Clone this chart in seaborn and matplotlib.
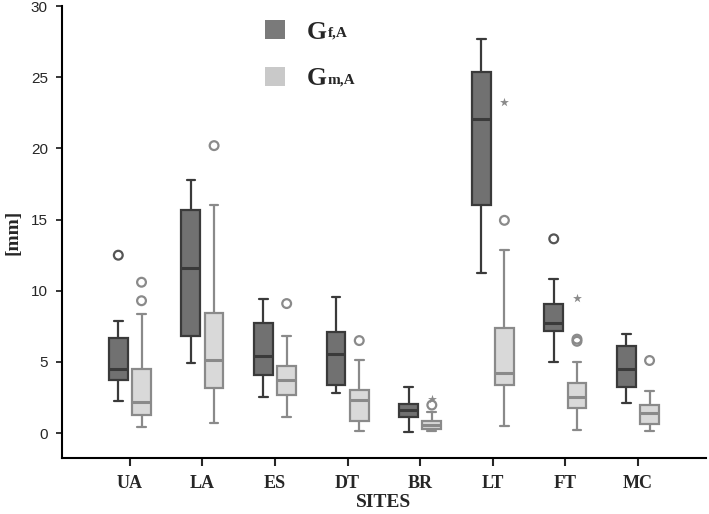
import pandas as pd
import matplotlib
matplotlib.use('Agg')
from matplotlib import pyplot as plt
from matplotlib.patches import Patch
import seaborn as sns

sites = ['UA', 'LA', 'ES', 'DT', 'BR', 'LT', 'FT', 'MC']

# five-number summaries: whisker low, Q1, median, Q3, whisker high
gf_low = [2.25, 4.9, 2.55, 2.8, 0.07, 11.25, 5.0, 2.1]
gf_q1 = [3.75, 6.8, 4.05, 3.4, 1.1, 16.05, 7.15, 3.25]
gf_med = [4.5, 11.6, 5.45, 5.55, 1.6, 22.05, 7.75, 4.5]
gf_q3 = [6.65, 15.7, 7.7, 7.1, 2.05, 25.35, 9.1, 6.1]
gf_high = [7.85, 17.8, 9.45, 9.55, 3.25, 27.7, 10.8, 6.95]

gm_low = [0.4, 0.7, 1.15, 0.15, 0.12, 0.5, 0.22, 0.12]
gm_q1 = [1.3, 3.15, 2.65, 0.85, 0.3, 3.35, 1.75, 0.62]
gm_med = [2.15, 5.1, 3.7, 2.3, 0.55, 4.25, 2.55, 1.4]
gm_q3 = [4.5, 8.45, 4.7, 3.05, 0.82, 7.4, 3.5, 1.95]
gm_high = [8.4, 16.0, 6.85, 5.1, 1.48, 12.85, 5.0, 2.95]

# outliers: site, group, value
out_circle_site = ['UA', 'FT', 'UA', 'UA', 'LA', 'ES', 'DT', 'BR', 'LT', 'FT', 'FT', 'MC']
out_circle_group = ['Gf', 'Gf', 'Gm', 'Gm', 'Gm', 'Gm', 'Gm', 'Gm', 'Gm', 'Gm', 'Gm', 'Gm']
out_circle_value = [12.5, 13.65, 10.6, 9.3, 20.2, 9.1, 6.5, 1.97, 14.95, 6.45, 6.6, 5.1]
out_star_site = ['BR', 'LT', 'FT']
out_star_group = ['Gm', 'Gm', 'Gm']
out_star_value = [2.4, 23.3, 9.5]

groups = ['Gf', 'Gm']
fill = {'Gf': '#717171', 'Gm': '#d9d9d9'}
edge = {'Gf': '#3a3a3a', 'Gm': '#8a8a8a'}
legend_fill = {'Gf': '#7a7a7a', 'Gm': '#c9c9c9'}
subscripts = {'Gf': 'f,A', 'Gm': 'm,A'}

rows = []
summ = {'Gf': [gf_low, gf_q1, gf_med, gf_q3, gf_high],
        'Gm': [gm_low, gm_q1, gm_med, gm_q3, gm_high]}
for g in groups:
    for i, s in enumerate(sites):
        for stat in summ[g]:
            rows.append({'site': s, 'group': g, 'value': stat[i]})
df = pd.DataFrame(rows)

sns.set_style('ticks')
plt.rcParams['font.family'] = ['Liberation Sans', 'DejaVu Sans']

fig, ax = plt.subplots(figsize=(7.09, 5.14), dpi=100)
fig.subplots_adjust(left=0.087, right=0.996, top=0.988, bottom=0.109)

box_width = 0.64
for g in groups:
    sns.boxplot(data=df[df['group'] == g], x='site', y='value', hue='group',
                order=sites, hue_order=groups, palette=fill, dodge=True,
                whis=(0, 100), width=box_width, gap=0.19, linecolor=edge[g],
                linewidth=1.6, legend=False, ax=ax,
                medianprops={'color': edge[g], 'linewidth': 2.2},
                capwidths=0.12)

offset = {'Gf': -box_width / 4, 'Gm': box_width / 4}
pt_color = {'Gf': '#555555', 'Gm': '#8a8a8a'}
for s, g, v in zip(out_circle_site, out_circle_group, out_circle_value):
    ax.scatter(sites.index(s) + offset[g], v, s=40, facecolors='none',
               edgecolors=pt_color[g], linewidths=1.6, zorder=5)
for s, g, v in zip(out_star_site, out_star_group, out_star_value):
    ax.scatter(sites.index(s) + offset[g], v, s=45, marker='*',
               color='#8a8a8a', linewidths=0, zorder=5)

ax.set_xlim(-0.94, 7.94)
ax.set_ylim(-1.75, 30)
ax.set_yticks(range(0, 31, 5))
sns.despine(ax=ax)
for sp in ['left', 'bottom']:
    ax.spines[sp].set_linewidth(1.5)
    ax.spines[sp].set_color('black')
ax.tick_params(axis='y', labelsize=11, length=4, width=1.3, pad=6)
ax.tick_params(axis='x', length=6, width=1.5, pad=6)
for t in ax.get_xticklabels():
    t.set_fontfamily('Liberation Serif')
    t.set_fontweight('bold')
    t.set_fontsize(13)
ax.set_xlabel('SITES', fontfamily='Liberation Serif', fontweight='bold',
              fontsize=14, labelpad=2)
ax.set_ylabel('[mm]', fontfamily='Liberation Serif', fontweight='bold',
              fontsize=14, labelpad=7)

handles = [Patch(facecolor=legend_fill[g], edgecolor='none') for g in groups]
leg = ax.legend(handles, ['G', 'G'], loc='upper left',
                bbox_to_anchor=(265 / 709, 1 - 20 / 514), bbox_transform=fig.transFigure,
                frameon=False, prop={'family': 'Liberation Serif', 'weight': 'bold', 'size': 18.5},
                handlelength=0.78, handleheight=0.78, labelspacing=0.9,
                handletextpad=0.85, borderpad=0, borderaxespad=0)
fig.canvas.draw()
for g, txt in zip(groups, leg.get_texts()):
    ax.annotate(subscripts[g], xy=(1, 0), xycoords=txt, xytext=(0.5, 3),
                textcoords='offset points', fontsize=11, fontweight='bold',
                fontfamily='Liberation Serif', va='bottom', ha='left')

plt.savefig('out.png', dpi=100)
